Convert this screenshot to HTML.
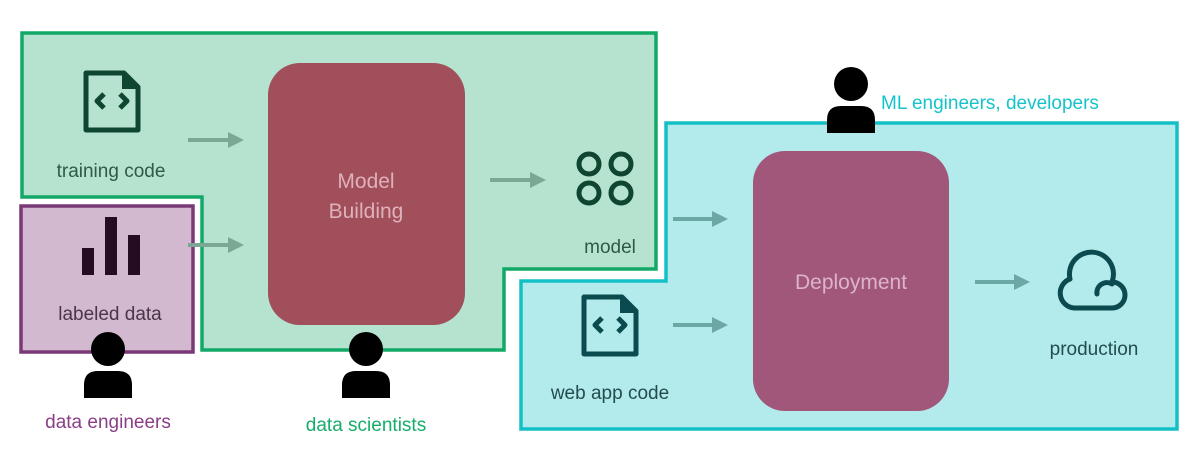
<!DOCTYPE html>
<html><head><meta charset="utf-8"><style>
html,body{margin:0;padding:0;background:#fff;width:1204px;height:458px;overflow:hidden}
text{font-family:"Liberation Sans","DejaVu Sans",sans-serif}
</style></head><body>
<svg width="1204" height="458" viewBox="0 0 1204 458" xmlns="http://www.w3.org/2000/svg">
<defs>
<marker id="ag" markerWidth="4" markerHeight="4" refX="1" refY="2" orient="auto" markerUnits="strokeWidth"><path d="M0,0 L4,2 L0,4 z" fill="#7aa895"/></marker>
<marker id="ac" markerWidth="4" markerHeight="4" refX="1" refY="2" orient="auto" markerUnits="strokeWidth"><path d="M0,0 L4,2 L0,4 z" fill="#6ba7a5"/></marker>
</defs>
<path d="M22,33 H656 V269 H504 V350 H202 V197 H22 Z" fill="#b5e3d0" stroke="#12a867" stroke-width="3.5"/>
<rect x="21" y="206" width="172" height="146" fill="#d3b9cf" stroke="#7b3876" stroke-width="3.5"/>
<path d="M666,123 H1177 V429 H521 V281 H666 Z" fill="#b3ebec" stroke="#13c0c6" stroke-width="3.5"/>
<rect x="268" y="63" width="197" height="262" rx="32" fill="#a04f5b"/>
<text x="366" y="188" font-size="21" fill="#dfb1bb" text-anchor="middle">Model</text>
<text x="366" y="218" font-size="21" fill="#dfb1bb" text-anchor="middle">Building</text>
<rect x="753" y="151" width="196" height="260" rx="32" fill="#a0577a"/>
<text x="851" y="289" font-size="21" fill="#ddb3c8" text-anchor="middle">Deployment</text>
<g stroke-width="4" fill="none">
<line x1="188" y1="140" x2="232" y2="140" stroke="#7aa895" marker-end="url(#ag)"/>
<line x1="188" y1="245" x2="232" y2="245" stroke="#7aa895" marker-end="url(#ag)"/>
<line x1="490" y1="180" x2="534" y2="180" stroke="#7aa895" marker-end="url(#ag)"/>
<line x1="673" y1="219" x2="716" y2="219" stroke="#6ba7a5" marker-end="url(#ac)"/>
<line x1="673" y1="325" x2="716" y2="325" stroke="#6ba7a5" marker-end="url(#ac)"/>
<line x1="975" y1="282" x2="1018" y2="282" stroke="#6ba7a5" marker-end="url(#ac)"/>
</g>
<g fill="none" stroke="#0f4632" stroke-width="5" stroke-linejoin="round">
<path d="M86,73 H124 L138,87 V130 H86 Z"/>
<path d="M104,94 L97,101 L104,108 M120,94 L127,101 L120,108"/>
</g>
<path d="M122,73 L138,89 L122,89 Z" fill="#0f4632"/>
<text x="111" y="177" font-size="19" fill="#2f5a48" text-anchor="middle">training code</text>
<g fill="#260b22"><rect x="82" y="248" width="12" height="27"/><rect x="105" y="217" width="12" height="58"/><rect x="128" y="235" width="12" height="40"/></g>
<text x="110" y="320" font-size="19" fill="#4b3648" text-anchor="middle">labeled data</text>
<g fill="none" stroke="#0f4632" stroke-width="5"><circle cx="589" cy="164" r="10"/><circle cx="621" cy="164" r="10"/><circle cx="589" cy="193" r="10"/><circle cx="621" cy="193" r="10"/></g>
<text x="610" y="253" font-size="19" fill="#2f5a48" text-anchor="middle">model</text>
<g fill="none" stroke="#0b4a4e" stroke-width="5" stroke-linejoin="round">
<path d="M584,297 H622 L636,311 V354 H584 Z"/>
<path d="M602,318 L595,325 L602,332 M618,318 L625,325 L618,332"/>
</g>
<path d="M620,297 L636,313 L620,313 Z" fill="#0b4a4e"/>
<text x="610" y="399" font-size="19" fill="#234c4e" text-anchor="middle">web app code</text>
<g fill="none" stroke="#0b4a4e" stroke-width="5" stroke-linejoin="round" stroke-linecap="round">
<path d="M1074,308 A15,15 0 0 1 1070,279 A22,22 0 1 1 1112,282 A13,13 0 0 1 1112,308 Z"/>
<path d="M1097,294 A10,10 0 0 1 1112,284"/>
</g>
<text x="1094" y="355" font-size="19" fill="#234c4e" text-anchor="middle">production</text>
<g fill="#000">
<circle cx="108" cy="349" r="17"/><path d="M84,398 V385 Q84,371 98,371 H118 Q132,371 132,385 V398 Z"/>
<circle cx="366" cy="349" r="17"/><path d="M342,398 V385 Q342,371 356,371 H376 Q390,371 390,385 V398 Z"/>
<circle cx="851" cy="84" r="17"/><path d="M827,133 V120 Q827,106 841,106 H861 Q875,106 875,120 V133 Z"/>
</g>
<text x="108" y="428" font-size="19" fill="#8a3e86" text-anchor="middle">data engineers</text>
<text x="366" y="431" font-size="19" fill="#16ad6a" text-anchor="middle">data scientists</text>
<text x="881" y="109" font-size="19" fill="#16c3ca">ML engineers, developers</text>
</svg>
</body></html>
